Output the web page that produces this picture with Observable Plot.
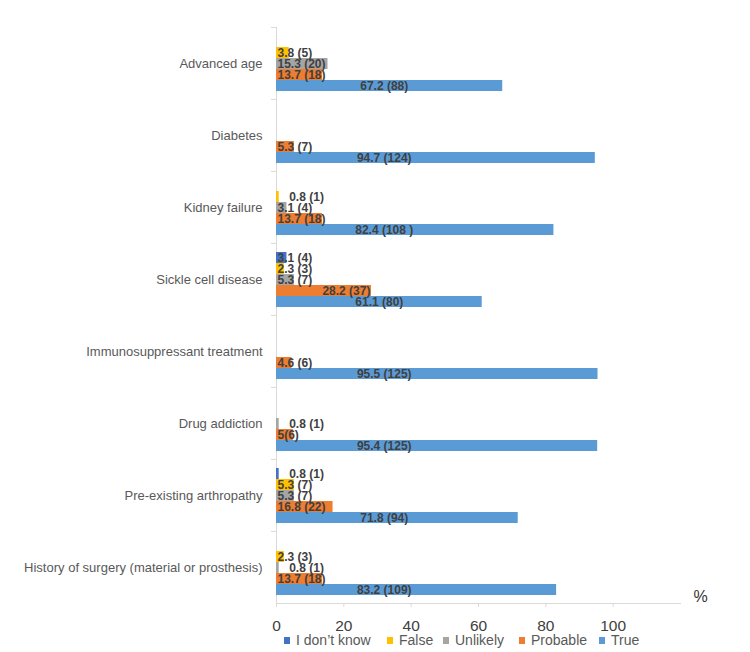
<!DOCTYPE html>
<html><head><meta charset="utf-8">
<script src="https://cdn.jsdelivr.net/npm/d3@7"></script>
<script src="https://cdn.jsdelivr.net/npm/@observablehq/plot@0.6"></script>
<style>
body{margin:0;background:#fff;font-family:"Liberation Sans",Arial,sans-serif;}
#wrap{position:relative;width:750px;height:652px;}
#legend{position:absolute;left:0;top:631px;width:750px;height:18px;font-size:14px;color:#595959;white-space:nowrap;}
#legend span.item{position:absolute;top:0;display:flex;align-items:center;height:18px;}
#legend span.sw{display:inline-block;width:6px;height:7px;margin-right:6px;}
</style></head><body>
<div id="wrap"><div id="chart"></div><div id="legend"></div></div>
<script>
const categories = ["Advanced age","Diabetes","Kidney failure","Sickle cell disease","Immunosuppressant treatment","Drug addiction","Pre-existing arthropathy","History of surgery (material or prosthesis)"];
const series = ["I don't know","False","Unlikely","Probable","True"];
const legendLabels = ["I don’t know","False","Unlikely","Probable","True"];
const colors = ["#4472C4","#FFC000","#A5A5A5","#ED7D31","#5B9BD5"];

const idkPct = [null,null,null,3.1,null,null,0.8,null];
const idkN   = [null,null,null,4,null,null,1,null];
const falsePct = [3.8,null,0.8,2.3,null,null,5.3,2.3];
const falseN   = [5,null,1,3,null,null,7,3];
const unlikelyPct = [15.3,null,3.1,5.3,null,0.8,5.3,0.8];
const unlikelyN   = [20,null,4,7,null,1,7,1];
const probablePct = [13.7,5.3,13.7,28.2,4.6,5,16.8,13.7];
const probableN   = [18,7,18,37,6,6,22,18];
const truePct = [67.2,94.7,82.4,61.1,95.5,95.4,71.8,83.2];
const trueN   = [88,124,108,80,125,125,94,109];
const xTicks = [0,20,40,60,80,100];
const labelOverrides = {"Drug addiction|Probable":"5(6)","Kidney failure|True":"82.4 (108 )"};

const pcts = [idkPct,falsePct,unlikelyPct,probablePct,truePct];
const counts = [idkN,falseN,unlikelyN,probableN,trueN];
const rows = [];
series.forEach((s, j) => categories.forEach((c, i) => {
  const v = pcts[j][i];
  if (v == null) return;
  const key = c + "|" + s;
  rows.push({category: c, series: s, value: v, n: counts[j][i],
    label: labelOverrides[key] ?? `${v} (${counts[j][i]})`});
}));

const labelFont = {fontFamily: "'Liberation Sans Narrow','Liberation Sans',sans-serif", fontSize: 12, fill: "#404040", fontWeight: "bold"};
const H = 630, MT = 26, MB = 26;
const band = (H - MT - MB) / categories.length;

const chart = Plot.plot({
  width: 750, height: H,
  marginLeft: 276, marginRight: 70, marginTop: MT, marginBottom: MB,
  style: {fontFamily: "'Liberation Sans',Arial,sans-serif", background: "#fff", overflow: "visible"},
  x: {domain: [0, 120]},
  y: {domain: series, paddingInner: 0, paddingOuter: 0.64, axis: null},
  fy: {domain: categories, padding: 0},
  color: {domain: series, range: colors},
  marks: [
    Plot.ruleX([0], {stroke: "#d9d9d9"}),
    Plot.frame({anchor: "bottom", stroke: "#d9d9d9", facetAnchor: "bottom"}),
    Plot.barX(rows, {x: "value", y: "series", fy: "category", fill: "series"}),
    Plot.text(rows.filter(d => d.series === "True"), {x: d => Math.min(d.value / 2, 32), y: "series", fy: "category", text: "label", textAnchor: "middle", ...labelFont}),
    Plot.text(rows.filter(d => d.series !== "True" && d.value >= 20), {x: "value", y: "series", fy: "category", text: "label", textAnchor: "end", dx: -1, ...labelFont}),
    Plot.text(rows.filter(d => d.series !== "True" && d.value < 20 && d.value >= 1), {x: 0, y: "series", fy: "category", text: "label", textAnchor: "start", dx: 1, ...labelFont}),
    Plot.text(rows.filter(d => d.value < 1), {x: "value", y: "series", fy: "category", text: "label", textAnchor: "start", dx: 10, ...labelFont}),
    Plot.axisX(xTicks, {tickSize: 4, tickPadding: 12, stroke: "#d9d9d9", fill: "#404040", fontSize: 15.5, label: null}),
    Plot.axisFy({anchor: "left", tickSize: 0, tickPadding: 14, fill: "#595959", fontSize: 13, label: null}),
    Plot.axisFy({anchor: "left", tickSize: 5, dy: -band / 2, stroke: "#d9d9d9", tickFormat: () => "", label: null}),
    Plot.text(["%"], {text: d => d, frameAnchor: "bottom-right", facetAnchor: "bottom", textAnchor: "start", lineAnchor: "middle", dx: 13, dy: -7, fontSize: 16, fill: "#333"})
  ]
});
document.getElementById("chart").append(chart);

const legendX = [284, 387, 443, 519, 599];
const lg = d3.select("#legend");
series.forEach((s, j) => {
  const it = lg.append("span").attr("class", "item").style("left", legendX[j] + "px");
  it.append("span").attr("class", "sw").style("background", colors[j]);
  it.append("span").text(legendLabels[j]);
});
</script></body></html>
